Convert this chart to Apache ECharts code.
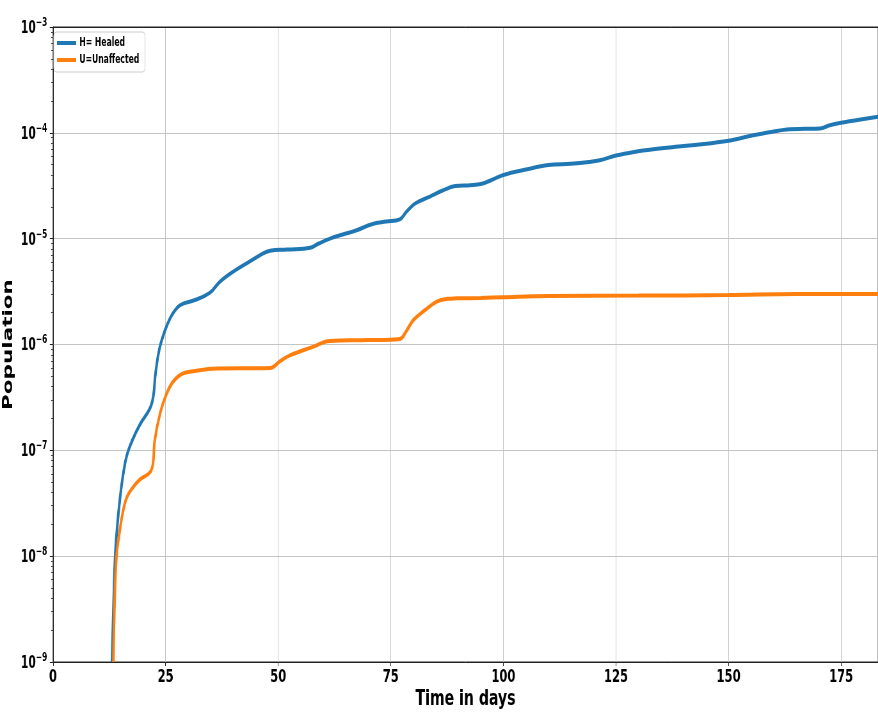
<!DOCTYPE html>
<html>
<head>
<meta charset="utf-8">
<script src="https://cdn.jsdelivr.net/npm/echarts@6/dist/echarts.min.js"></script>
<style>
html,body{margin:0;padding:0;background:#fff;width:878px;height:714px;overflow:hidden}
#wrap{width:878px;height:714px;overflow:hidden;position:relative}
#chart{height:714px;transform-origin:0 0}
</style>
</head>
<body>
<div id="wrap"><div id="chart"></div></div>
<script>
// ---- data ----
const healedDays = [13.1, 13.4, 13.8, 14.3, 14.9, 15.6, 16.4, 17.8, 19.3, 21.9, 22.8, 23.6, 24.9, 26.4, 28.2, 31.5, 34.9, 37.0, 40.4, 43.7, 46.0, 48.2, 52.0, 57.1, 59.0, 61.5, 64.5, 67.4, 70.8, 74.0, 77.0, 78.5, 80.4, 83.7, 86.5, 89.3, 92.6, 95.0, 97.5, 100, 105, 110, 115, 119, 121.4, 125, 129, 133.3, 140, 145, 150, 155.5, 159.5, 163.6, 167, 170.3, 172.5, 174.7, 179, 183.2];
const healedValues = [1e-9, 3e-9, 1e-8, 2e-8, 3.6e-8, 6e-8, 9e-8, 1.3e-7, 1.75e-7, 2.75e-7, 5.5e-7, 9e-7, 1.37e-6, 1.9e-6, 2.35e-6, 2.63e-6, 3.1e-6, 3.9e-6, 5.0e-6, 6.1e-6, 7.0e-6, 7.7e-6, 7.9e-6, 8.2e-6, 9.0e-6, 1.0e-5, 1.1e-5, 1.2e-5, 1.37e-5, 1.45e-5, 1.52e-5, 1.8e-5, 2.15e-5, 2.5e-5, 2.85e-5, 3.14e-5, 3.2e-5, 3.28e-5, 3.6e-5, 4.0e-5, 4.5e-5, 4.96e-5, 5.1e-5, 5.3e-5, 5.5e-5, 6.1e-5, 6.6e-5, 7.0e-5, 7.5e-5, 7.9e-5, 8.4e-5, 9.5e-5, 1.02e-4, 1.08e-4, 1.09e-4, 1.10e-4, 1.18e-4, 1.24e-4, 1.33e-4, 1.42e-4];
const unaffectedDays = [13.4, 13.7, 14.1, 14.7, 15.5, 16.4, 17.8, 19.3, 21.9, 22.6, 23.8, 25.1, 26.4, 27.8, 29.3, 32.6, 35.3, 48.2, 50.5, 52.6, 57.4, 61.5, 70, 77, 78.5, 80, 82.5, 85.2, 87.5, 89.6, 95, 100, 110, 130, 150, 165, 183.2];
const unaffectedValues = [1e-9, 4e-9, 1e-8, 1.6e-8, 2.6e-8, 3.6e-8, 4.5e-8, 5.3e-8, 6.6e-8, 1.25e-7, 2.26e-7, 3.33e-7, 4.3e-7, 5.0e-7, 5.4e-7, 5.7e-7, 5.9e-7, 6.0e-7, 7.0e-7, 7.9e-7, 9.4e-7, 1.08e-6, 1.1e-6, 1.13e-6, 1.35e-6, 1.7e-6, 2.1e-6, 2.54e-6, 2.7e-6, 2.73e-6, 2.75e-6, 2.8e-6, 2.88e-6, 2.9e-6, 2.93e-6, 3.0e-6, 3.0e-6];
const seriesNames = ['H= Healed', 'U=Unaffected'];
const xTickInterval = 25;
const xMin = 0, xMax = 183.2;
const yMin = 1e-9, yMax = 1e-3;

// ---- layout (the reference is horizontally squeezed; reproduce that) ----
const SX = 0.64;
const W = Math.round(878 / SX);
const el = document.getElementById('chart');
el.style.width = W + 'px';
el.style.transform = 'scaleX(' + SX + ')';

const chart = echarts.init(el, null, {renderer: 'canvas', width: W, height: 714});
const FONT = 'DejaVu Sans';
const toPairs = (xs, ys) => xs.map((x, i) => [x, ys[i]]);

chart.setOption({
  animation: false,
  backgroundColor: '#fff',
  grid: {left: 53 / SX, right: 0, top: 27, bottom: 52, outerBoundsMode: 'none', containLabel: false,
         show: true, borderColor: '#222', borderWidth: 1, backgroundColor: 'transparent'},
  legend: {
    left: 84, top: 32, orient: 'vertical',
    data: seriesNames,
    icon: 'rect', itemWidth: 30, itemHeight: 4, itemGap: 5,
    padding: [5, 9, 6, 5],
    backgroundColor: 'rgba(255,255,255,0.85)', borderColor: '#cccccc', borderWidth: 1, borderRadius: 4,
    textStyle: {fontFamily: FONT, fontWeight: 'bold', fontSize: 12, color: '#000'}
  },
  xAxis: [{
    type: 'value', min: xMin, max: xMax, interval: xTickInterval,
    name: 'Time in days', nameLocation: 'middle', nameGap: 26, nameMoveOverlap: false,
    nameTextStyle: {fontFamily: FONT, fontWeight: 'bold', fontSize: 22, color: '#000'},
    axisLine: {show: true, lineStyle: {color: '#222', width: 1}},
    axisTick: {show: true, length: 4, lineStyle: {color: '#222'}},
    axisLabel: {fontFamily: FONT, fontWeight: 'bold', fontSize: 18, color: '#000', margin: 6, showMaxLabel: false},
    splitLine: {show: true, lineStyle: {color: '#c4c4c4', width: 1}}
  }, {
    type: 'value', position: 'top', min: xMin, max: xMax, interval: xTickInterval,
    axisLine: {show: true, lineStyle: {color: '#222', width: 1}},
    axisTick: {show: false}, axisLabel: {show: false}, splitLine: {show: false}
  }],
  yAxis: {
    type: 'log', logBase: 10, min: yMin, max: yMax, splitNumber: 6,
    name: 'Population', nameLocation: 'middle', nameGap: 58, nameRotate: 90, nameMoveOverlap: false,
    nameTextStyle: {fontFamily: FONT, fontWeight: 'bold', fontSize: 21.5, color: '#000'},
    axisLine: {show: true, lineStyle: {color: '#222', width: 1}},
    axisTick: {show: true, length: 5, lineStyle: {color: '#222'}},
    minorTick: {show: true, splitNumber: 9, length: 3, lineStyle: {color: '#444'}},
    axisLabel: {
      margin: 9,
      formatter: function (v) {
        const e = Math.round(Math.log10(v));
        return '{b|10}{s|' + (e < 0 ? '\u2212' : '') + Math.abs(e) + '}';
      },
      rich: {
        b: {fontFamily: FONT, fontWeight: 'bold', fontSize: 17, color: '#000', lineHeight: 20, verticalAlign: 'bottom'},
        s: {fontFamily: FONT, fontWeight: 'bold', fontSize: 11.5, color: '#000', lineHeight: 20, verticalAlign: 'top'}
      }
    },
    splitLine: {show: true, lineStyle: {color: '#c4c4c4', width: 1}}
  },
  series: [
    {name: seriesNames[0], type: 'line', data: toPairs(healedDays, healedValues), showSymbol: false, symbol: 'none',
     smooth: 0.4, lineStyle: {color: '#1f77b4', width: 4}, itemStyle: {color: '#1f77b4'}, clip: true},
    {name: seriesNames[1], type: 'line', data: toPairs(unaffectedDays, unaffectedValues), showSymbol: false, symbol: 'none',
     smooth: 0.4, lineStyle: {color: '#ff7f0e', width: 4}, itemStyle: {color: '#ff7f0e'}, clip: true}
  ]
});
</script>
</body>
</html>
